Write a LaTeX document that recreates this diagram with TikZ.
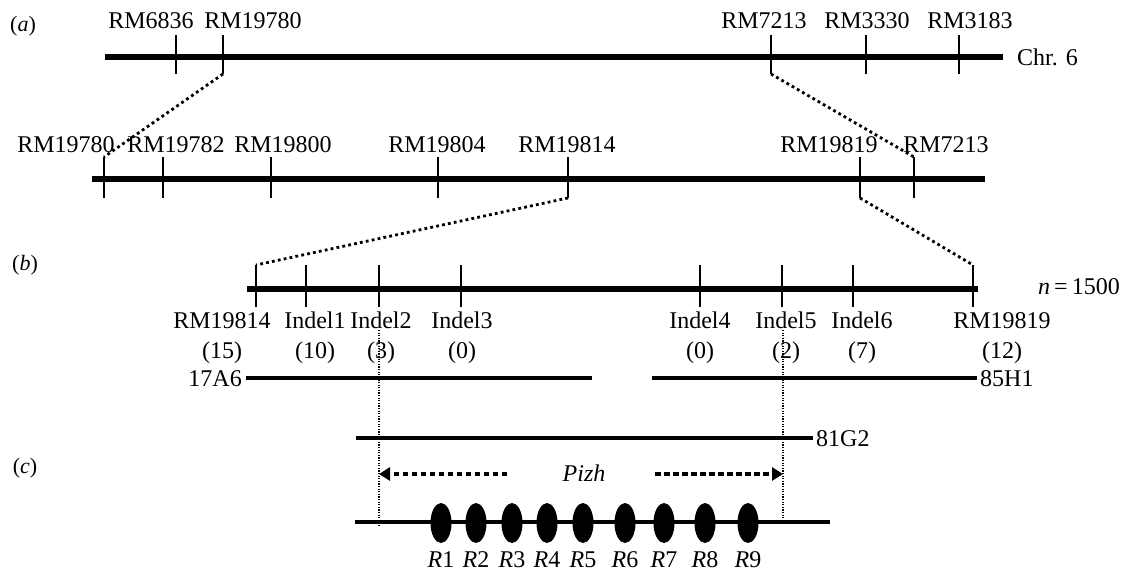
\documentclass[tikz,border=0pt]{standalone}
\usepackage{fontspec}
\setmainfont{Liberation Serif}
\usetikzlibrary{arrows.meta, shapes.geometric, positioning}

\begin{document}
\begin{tikzpicture}[x=1pt,y=-1pt,
	chrom/.style={line width=6.5pt},
	clone/.style={line width=4.5pt},
	mtick/.style={line width=2.2pt},
	zoomlink/.style={line width=2.8pt, dash pattern=on 2.8pt off 3.2pt},
	guide/.style={line width=1.1pt, dash pattern=on 1.1pt off 1.5pt},
	span/.style={line width=3.2pt, dash pattern=on 5.5pt off 3.5pt, -{Triangle[length=11pt,width=13pt]}},
	lab/.style={font=\fontsize{24}{28}\selectfont, inner sep=0pt, anchor=base},
	tag/.style={font=\fontsize{22}{26}\selectfont, inner sep=0pt, anchor=base},
	gene/.style={ellipse, fill=black, minimum width=21pt, minimum height=40pt, inner sep=0pt}]
	\useasboundingbox (0,0) rectangle (1128,571);

	% (a) chromosome 6
	\node[tag] (taga) at (23,31) {(\textit{a})};
	\draw[chrom] (105,57) -- (1003,57) coordinate (chr-end);
	\node[lab, anchor=west, right=14pt of chr-end] (chr) {Chr. 6};
	\foreach \x/\lx/\t in {176/151/RM6836, 223/253/RM19780, 771/764/RM7213, 866/867/RM3330, 959/970/RM3183}{
		\draw[mtick] (\x,35) -- (\x,74) coordinate (a-\t);
		\node[lab] (la-\t) at (\lx,28) {\t};
	}

	% fine map
	\draw[chrom] (92,179) -- (985,179);
	\foreach \x/\lx/\t in {104/66/RM19780, 163/176/RM19782, 271/283/RM19800, 438/437/RM19804, 568/567/RM19814, 860/829/RM19819, 914/946/RM7213}{
		\draw[mtick] (\x,157) coordinate (b-\t-top) -- (\x,198) coordinate (b-\t);
		\node[lab] (lb-\t) at (\lx,152) {\t};
	}
	\draw[zoomlink] (a-RM19780) -- (b-RM19780-top);
	\draw[zoomlink] (a-RM7213) -- (b-RM7213-top);

	% (b) high-resolution map
	\node[tag] (tagb) at (25,270) {(\textit{b})};
	\draw[chrom] (247,289) -- (978,289);
	\foreach \x/\lx/\t/\n in {256/222/RM19814/15, 306/315/Indel1/10, 379/381/Indel2/3, 461/462/Indel3/0, 700/700/Indel4/0, 782/786/Indel5/2, 853/862/Indel6/7, 973/1002/RM19819/12}{
		\draw[mtick] (\x,265) coordinate (c-\t-top) -- (\x,307);
		\node[lab] (lc-\t) at (\lx,328) {\t};
		\node[lab] (nc-\t) at (\lx,358) {(\n)};
	}
	\draw[zoomlink] (b-RM19814) -- (c-RM19814-top);
	\draw[zoomlink] (b-RM19819) -- (c-RM19819-top);
	\node[lab] (pop) at (1079,294.5) {\textit{n}\,=\,1500};

	% clones
	\draw[clone] (246,378) -- (592,378);
	\node[lab, anchor=base east] (c17A6) at (242,386) {17A6};
	\draw[clone] (652,378) -- (977,378);
	\node[lab, anchor=base west] (c85H1) at (980,386) {85H1};
	\draw[clone] (356,438) -- (813,438);
	\node[lab, anchor=base west] (c81G2) at (816,446) {81G2};

	% (c) Pizh locus
	\node[tag] (tagc) at (25,473) {(\textit{c})};
	\coordinate (g-l-top) at (379,330);
	\coordinate (g-l-bot) at (379,527);
	\coordinate (g-r-top) at (783,330);
	\coordinate (g-r-bot) at (783,518);
	\draw[guide] (g-l-top) -- (g-l-bot);
	\draw[guide] (g-r-top) -- (g-r-bot);
	\node[lab, font=\fontsize{24}{28}\selectfont\itshape] (pizh) at (584,481) {Pizh};
	\coordinate (pl-tail) at (507,474);
	\coordinate (pr-tail) at (655,474);
	\draw[span] (pl-tail) -- (g-l-top |- pl-tail);
	\draw[span] (pr-tail) -- (g-r-top |- pr-tail);

	\draw[line width=4pt] (355,522) -- (830,522);
	\foreach \x [count=\i] in {441, 476, 512, 547, 583, 625, 664, 705, 748}{
		\node[gene] (r\i) at (\x,523) {};
		\node[lab] (lr\i) at (\x,567) {\textit{R}\i};
	}
\end{tikzpicture}
\end{document}
